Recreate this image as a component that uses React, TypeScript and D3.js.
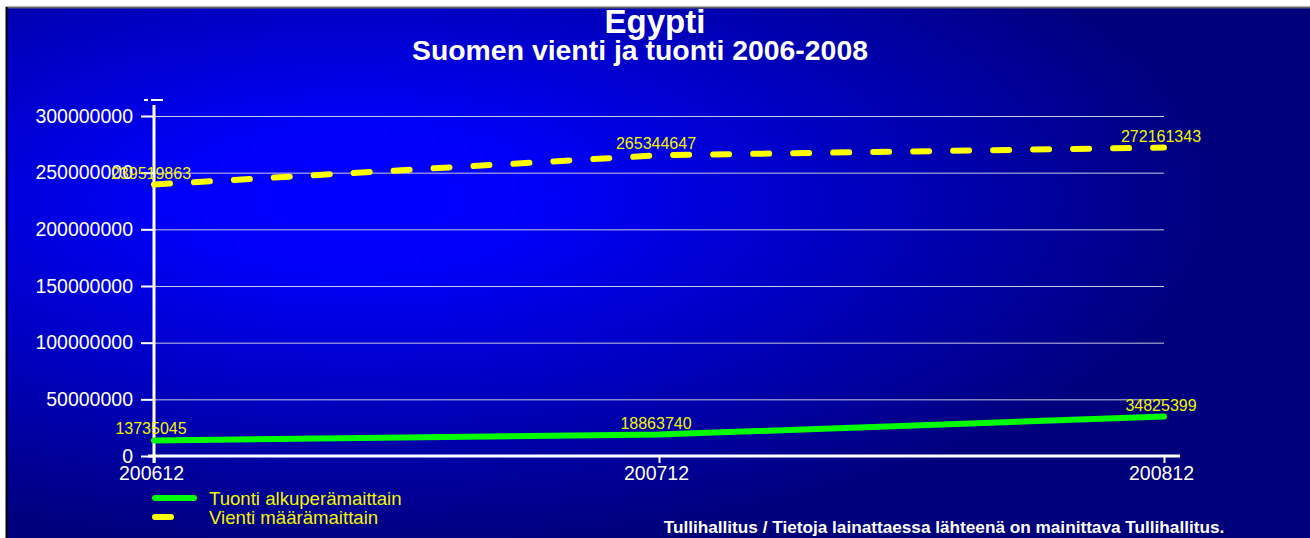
import React, { useEffect, useRef } from 'react';
import * as d3 from 'd3';

const periods = ['200612', '200712', '200812'];
const tuonti = [13735045, 18863740, 34825399];
const vienti = [239519863, 265344647, 272161343];
const yTicks = [0, 50000000, 100000000, 150000000, 200000000, 250000000, 300000000];
const seriesNames = ['Tuonti alkuperämaittain', 'Vienti määrämaittain'];

const W = 1310;
const H = 538;

export default function App() {
  const svgRef = useRef<SVGSVGElement>(null);

  useEffect(() => {
    document.body.style.margin = '0';
    const svg = d3.select(svgRef.current);
    svg.selectAll('*').remove();

    const font = 'Arial, "Liberation Sans", sans-serif';
    const x = d3.scalePoint<string>().domain(periods).range([154, 1164]);
    const y = d3.scaleLinear().domain([0, 300000000]).range([456, 116]);

    // background panel with radial glow
    const defs = svg.append('defs');
    const grad = defs.append('radialGradient')
      .attr('id', 'bg')
      .attr('cx', 0.27).attr('cy', 0.36).attr('r', 0.66)
      .attr('fx', 0.27).attr('fy', 0.36);
    grad.append('stop').attr('offset', 0).attr('stop-color', '#0000ff');
    grad.append('stop').attr('offset', 0.2).attr('stop-color', '#0000fa');
    grad.append('stop').attr('offset', 1).attr('stop-color', '#00007d');

    svg.append('rect').attr('x', 6).attr('y', 7).attr('width', W - 6).attr('height', H - 7)
      .attr('fill', 'url(#bg)');
    svg.append('line').attr('x1', 6).attr('x2', W).attr('y1', 7.5).attr('y2', 7.5)
      .attr('stroke', '#666').attr('stroke-width', 2);
    svg.append('line').attr('x1', 6.5).attr('x2', 6.5).attr('y1', 7).attr('y2', H)
      .attr('stroke', '#000').attr('stroke-width', 2);

    // titles
    svg.append('text').attr('x', 655).attr('y', 33).attr('text-anchor', 'middle')
      .attr('font-family', font).attr('font-weight', 'bold').attr('font-size', 33)
      .attr('fill', '#fff').text('Egypti');
    svg.append('text').attr('x', 640).attr('y', 60).attr('text-anchor', 'middle')
      .attr('font-family', font).attr('font-weight', 'bold').attr('font-size', 28.4)
      .attr('fill', '#fff').text('Suomen vienti ja tuonti 2006-2008');

    // gridlines
    svg.append('g').selectAll('line').data(yTicks.filter(d => d > 0)).join('line')
      .attr('x1', x(periods[0])!).attr('x2', x(periods[periods.length - 1])!)
      .attr('y1', d => y(d) + 0.5).attr('y2', d => y(d) + 0.5)
      .attr('stroke', '#c8c8e0').attr('stroke-width', 1);

    // y axis
    const yAxis = svg.append('g').attr('transform', `translate(${x(periods[0])},0)`)
      .call(d3.axisLeft(y).tickValues(yTicks).tickSize(13).tickPadding(8).tickFormat(d3.format('d')));
    yAxis.select('.domain').remove();
    yAxis.selectAll('.tick line').attr('stroke', '#fff').attr('stroke-width', 2);
    yAxis.selectAll('.tick text').attr('fill', '#fff').attr('font-family', font).attr('font-size', 19.5);

    svg.append('line').attr('x1', 154).attr('x2', 154).attr('y1', 105).attr('y2', 463)
      .attr('stroke', '#fff').attr('stroke-width', 3);
    svg.append('line').attr('x1', 144).attr('x2', 148).attr('y1', 100).attr('y2', 100)
      .attr('stroke', '#fff').attr('stroke-width', 2);
    svg.append('line').attr('x1', 151).attr('x2', 163).attr('y1', 100).attr('y2', 100)
      .attr('stroke', '#fff').attr('stroke-width', 2);

    // x axis
    const xAxis = svg.append('g').attr('transform', `translate(0,${y(0)})`)
      .call(d3.axisBottom(x).tickSize(7).tickPadding(3));
    xAxis.select('.domain').remove();
    xAxis.selectAll('.tick line').attr('stroke', '#fff').attr('stroke-width', 2);
    xAxis.selectAll('.tick text').attr('fill', '#fff').attr('font-family', font).attr('font-size', 19.5)
      .attr('dx', -3);
    svg.append('line').attr('x1', 148).attr('x2', 1180).attr('y1', y(0)).attr('y2', y(0))
      .attr('stroke', '#fff').attr('stroke-width', 3);

    // series
    const line = d3.line<number>().x((_, i) => x(periods[i])!).y(d => y(d));
    svg.append('path').attr('d', line(tuonti)).attr('fill', 'none')
      .attr('stroke', '#00ff00').attr('stroke-width', 6).attr('stroke-linecap', 'round');
    svg.append('path').attr('d', line(vienti)).attr('fill', 'none')
      .attr('stroke', '#ffff00').attr('stroke-width', 6).attr('stroke-linecap', 'round')
      .attr('stroke-dasharray', '16 24');

    // value labels
    [tuonti, vienti].forEach(series => {
      svg.append('g').selectAll('text').data(series).join('text')
        .attr('x', (_, i) => x(periods[i])! - 3)
        .attr('y', d => y(d) - 6)
        .attr('text-anchor', 'middle')
        .attr('font-family', font).attr('font-size', 16)
        .attr('fill', '#f4f400')
        .text(d => String(d));
    });

    // legend
    const legend = svg.append('g');
    const colors = ['#00ff00', '#ffff00'];
    seriesNames.forEach((name, i) => {
      const ly = 498 + i * 19;
      legend.append('line').attr('x1', 155).attr('x2', i === 0 ? 194 : 171)
        .attr('y1', ly).attr('y2', ly)
        .attr('stroke', colors[i]).attr('stroke-width', 6).attr('stroke-linecap', 'round');
      legend.append('text').attr('x', 209).attr('y', ly + 7)
        .attr('font-family', font).attr('font-size', 18.6)
        .attr('fill', '#f4f400').text(name);
    });

    // footer
    svg.append('text').attr('x', 944).attr('y', 533).attr('text-anchor', 'middle')
      .attr('font-family', font).attr('font-weight', 'bold').attr('font-size', 17.2)
      .attr('fill', '#fff').text('Tullihallitus / Tietoja lainattaessa lähteenä on mainittava Tullihallitus.');
  }, []);

  return <svg ref={svgRef} width={W} height={H} style={{ display: 'block', background: '#fff' }} />;
}
